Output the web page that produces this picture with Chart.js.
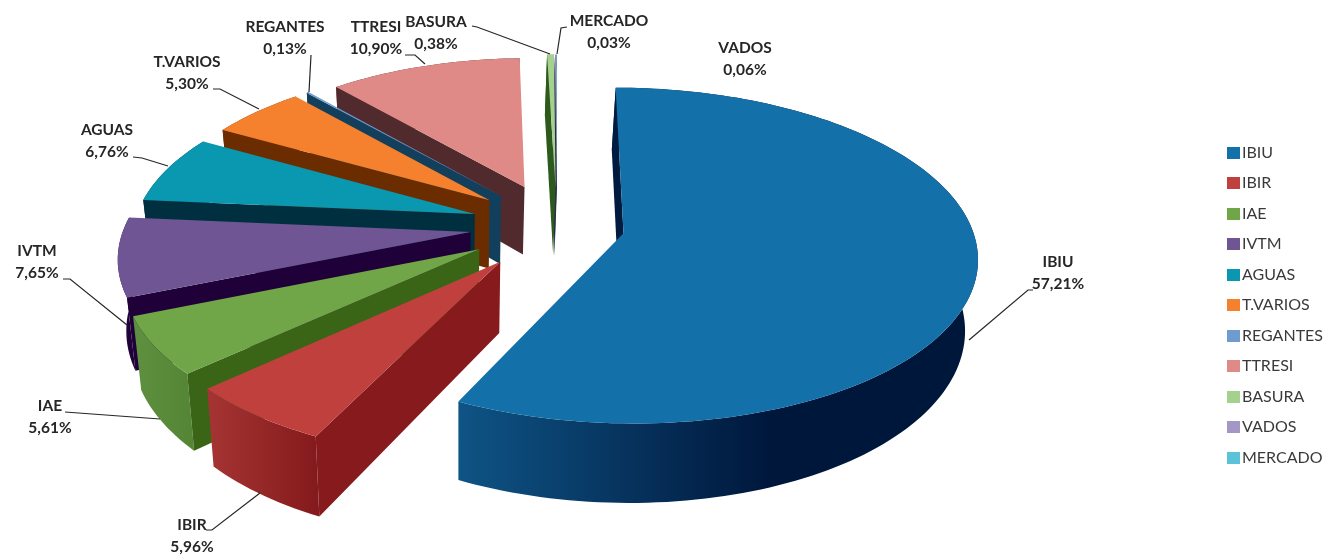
<!DOCTYPE html>
<html>
<head>
<meta charset="utf-8">
<title>Ingresos</title>
<script src="https://cdn.jsdelivr.net/npm/chart.js@4"></script>
<style>
  html, body { margin: 0; padding: 0; background: #fff; }
  #wrap { width: 1325px; height: 557px; position: relative; }
</style>
</head>
<body>
<div id="wrap"><canvas id="chart"></canvas></div>
<script>
// data
const categories = ["IBIU", "IBIR", "IAE", "IVTM", "AGUAS", "T.VARIOS", "REGANTES", "TTRESI", "BASURA", "VADOS", "MERCADO"];
const shares = [57.21, 5.96, 5.61, 7.65, 6.76, 5.30, 0.13, 10.90, 0.38, 0.06, 0.03];
const shareLabels = ["57,21%", "5,96%", "5,61%", "7,65%", "6,76%", "5,30%", "0,13%", "10,90%", "0,38%", "0,06%", "0,03%"];

// colours
const topColors = ["#1470a9", "#c0403e", "#70a548", "#6f5593", "#0a98b0", "#f5812e", "#6f9bd0", "#e08a88", "#a5d18f", "#a596c8", "#5cc2d8"];
const sideColors = ["#001a40", "#861a1d", "#3a6416", "#1f0038", "#003040", "#6b2d00", "#123f5c", "#512a2e", "#2c5a1c", "#2f2550", "#10505c"];
const rimLeft = ["#0e5485", "#a53533", "#5f9040", "#3a1c60", "#003040", "#6b2d00", "#123f5c", "#512a2e", "#2c5a1c", "#2f2550", "#10505c"];
const rimRight = ["#00173c", "#851a1c", "#558636", "#1f0038", "#003040", "#6b2d00", "#123f5c", "#512a2e", "#2c5a1c", "#2f2550", "#10505c"];

// how far each slice is pulled out and how long it is, as part of the radius
const explode = [0.195, 0.265, 0.26, 0.25, 0.25, 0.255, 0.25, 0.265, 0.24, 0.24, 0.24];
const reach = [1, 0.99, 0.99, 0.995, 0.98, 0.97, 0.97, 0.945, 0.98, 0.98, 0.98];

// tilted view of the pie
const VIEW = { cx: 557, cy: 226, a: 348, b: 163, k: 0.1325, vanishX: 460, shrink: 0.975, depthScale: 1.051, depthAdd: 57.9 };

// text and leader lines
const labelLayout = [
  { x: 1058, y: 262, line: [[1033, 290], [1028, 290], [969, 340]] },
  { x: 192, y: 525, line: [[206, 530], [212, 530], [260, 493]] },
  { x: 50, y: 406, line: [[65, 412], [160, 419]] },
  { x: 37, y: 251, line: [[63, 279], [70, 279], [127, 325]] },
  { x: 107, y: 130, line: [[133, 157], [142, 158], [168, 166]] },
  { x: 187, y: 62, line: [[213, 89], [220, 89], [259, 109]] },
  { x: 285, y: 27, line: [[311, 55], [309, 92]] },
  { x: 376, y: 27, line: [[405, 55], [415, 55], [425, 64]] },
  { x: 436, y: 22, line: [[472, 26], [477, 27], [550, 54]] },
  { x: 745, y: 48, line: null },
  { x: 609, y: 21, line: [[567, 27], [561, 28], [557, 54]] },
];

function project(u, v) {
  const w = 1 - VIEW.k * v;
  return { x: VIEW.cx + VIEW.a * u / w, y: VIEW.cy + VIEW.b * v / w };
}

function dropDown(p) {
  return {
    x: VIEW.vanishX + (p.x - VIEW.vanishX) * VIEW.shrink,
    y: p.y * VIEW.depthScale + VIEW.depthAdd,
  };
}

function tracePath(ctx, points) {
  ctx.beginPath();
  points.forEach((p, i) => (i ? ctx.lineTo(p.x, p.y) : ctx.moveTo(p.x, p.y)));
  ctx.closePath();
}

// outline of one arc element from the pie controller, in the tilted view
function sliceOutline(arc, pull, len) {
  const mid = (arc.startAngle + arc.endAngle) / 2;
  const du = Math.cos(mid) * pull;
  const dv = Math.sin(mid) * pull;
  const steps = Math.max(2, Math.ceil((arc.endAngle - arc.startAngle) * 40));
  const rim = [];
  for (let i = 0; i <= steps; i++) {
    const a = arc.startAngle + (arc.endAngle - arc.startAngle) * i / steps;
    rim.push(project(Math.cos(a) * len + du, Math.sin(a) * len + dv));
  }
  return { apex: project(du, dv), rim };
}

function drawSlice(ctx, arc, i) {
  const { apex, rim } = sliceOutline(arc, explode[i], reach[i]);
  const apexLow = dropDown(apex);
  const rimLow = rim.map(dropDown);

  // outer wall
  const xs = rim.map((p) => p.x);
  const grad = ctx.createLinearGradient(Math.min(...xs), 0, Math.max(...xs), 0);
  grad.addColorStop(0, rimLeft[i]);
  grad.addColorStop(i === 0 ? 0.6 : 1, rimRight[i]);
  grad.addColorStop(1, rimRight[i]);
  ctx.fillStyle = grad;
  tracePath(ctx, rim.concat(rimLow.slice().reverse()));
  ctx.fill();

  // wall along the first edge, the only one that faces the viewer
  ctx.fillStyle = sideColors[i];
  tracePath(ctx, [apex, rim[0], rimLow[0], apexLow]);
  ctx.fill();

  // top
  ctx.fillStyle = topColors[i];
  tracePath(ctx, [apex].concat(rim));
  ctx.fill();
}

// legend swatch, drawn wider than the legend's own box so the text sits close to it
function swatch(color) {
  const c = document.createElement("canvas");
  c.width = 13;
  c.height = 12;
  const g = c.getContext("2d");
  g.fillStyle = color;
  g.fillRect(0, 0, 13, 12);
  return c;
}

const tiltedPie = {
  id: "tiltedPie",
  // the plugin paints the arcs itself, in perspective
  beforeDatasetDraw() {
    return false;
  },
  afterDatasetsDraw(chart) {
    const ctx = chart.ctx;
    const arcs = chart.getDatasetMeta(0).data;
    ctx.save();
    for (let i = arcs.length - 1; i >= 0; i--) {
      drawSlice(ctx, arcs[i], i);
    }
    ctx.restore();
  },
  afterDraw(chart) {
    const ctx = chart.ctx;
    ctx.save();
    ctx.strokeStyle = "#262626";
    ctx.lineWidth = 1.2;
    labelLayout.forEach((item) => {
      if (!item.line) return;
      ctx.beginPath();
      item.line.forEach((p, n) => (n ? ctx.lineTo(p[0], p[1]) : ctx.moveTo(p[0], p[1])));
      ctx.stroke();
    });
    ctx.fillStyle = "#262626";
    ctx.font = "bold 15.5px Lato";
    ctx.textAlign = "center";
    ctx.textBaseline = "middle";
    labelLayout.forEach((item, i) => {
      ctx.fillText(categories[i], item.x, item.y);
      ctx.fillText(shareLabels[i], item.x, item.y + 22);
    });
    ctx.restore();
  },
};

new Chart(document.getElementById("chart"), {
  type: "pie",
  data: {
    labels: categories,
    datasets: [{ data: shares, backgroundColor: topColors, borderWidth: 0 }],
  },
  plugins: [tiltedPie],
  options: {
    responsive: true,
    maintainAspectRatio: false,
    animation: false,
    layout: { padding: { top: 53, right: -8 } },
    plugins: {
      tooltip: { enabled: false },
      legend: {
        position: "right",
        labels: {
          usePointStyle: true,
          pointStyleWidth: 1,
          boxHeight: 12,
          padding: 14.5,
          color: "#3a3a3a",
          font: { family: "Lato", size: 16 },
          generateLabels(chart) {
            const items = Chart.overrides.pie.plugins.legend.labels.generateLabels(chart);
            items.forEach((item, i) => { item.pointStyle = swatch(topColors[i]); });
            return items;
          },
        },
      },
    },
  },
});
</script>
</body>
</html>
